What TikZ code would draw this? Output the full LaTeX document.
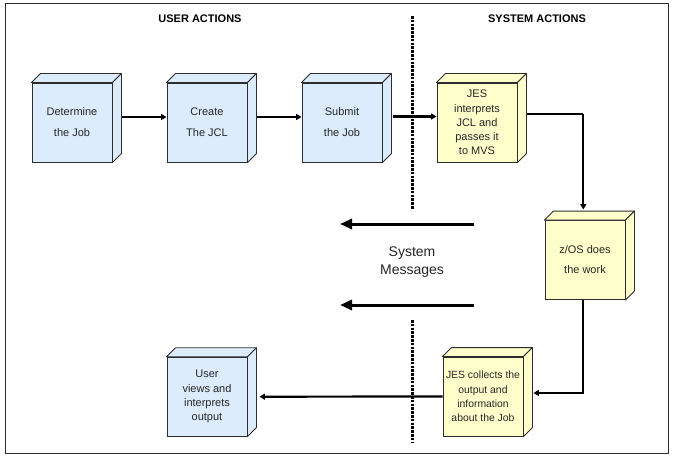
\documentclass[tikz,border=0pt]{standalone}
\usepackage{fontspec}
\setmainfont{Liberation Sans}
\usetikzlibrary{arrows.meta}
\definecolor{boxblue}{RGB}{220,236,252}
\definecolor{boxyellow}{RGB}{255,255,204}
\definecolor{edgegray}{RGB}{45,45,45}
\tikzset{
  cuboid/.style={draw=edgegray, line width=0.9pt, minimum width=80pt, minimum height=79pt,
    inner sep=0pt, align=center, text=black!85, font=\fontsize{11}{21}\selectfont},
  bluecuboid/.style={cuboid, fill=boxblue},
  yellowcuboid/.style={cuboid, fill=boxyellow},
  arr/.style={line width=2.2pt, draw=black, -{Triangle[length=5.5pt,width=6pt]}},
  bigarr/.style={line width=3pt, draw=black, -{Triangle[length=12pt,width=10pt]}},
  thinline/.style={line width=1.3pt, draw=black},
  divider/.style={line width=2.6pt, draw=black, dash pattern=on 2.6pt off 1.2pt},
  heading/.style={font=\fontsize{11}{13}\selectfont\bfseries, text=black},
}
\newcommand\cubefaces[2]{%
  \filldraw[fill=#2, draw=edgegray, line width=0.9pt, line join=round]
    (#1.north west) -- ++(9,-9) -- ([shift={(9,-9)}]#1.north east) -- (#1.north east) -- cycle;
  \filldraw[fill=#2, draw=edgegray, line width=0.9pt, line join=round]
    (#1.north east) -- ++(9,-9) -- ([shift={(9,-9)}]#1.south east) -- (#1.south east) -- cycle;}
\begin{document}
\begin{tikzpicture}[x=1pt, y=-1pt]
\useasboundingbox (0,0) rectangle (673,460);
\fill[white] (0,0) rectangle (673,460);
\draw[line width=1pt, draw=edgegray] (5,4) rectangle (668,453);

\node[heading] (uh) at (200,19) {USER ACTIONS};
\node[heading] (sh) at (537,19) {SYSTEM ACTIONS};

% dividers
\coordinate (d1a) at (412.7,16);
\coordinate (d1b) at (412.7,209);
\coordinate (d2a) at (412.7,320);
\coordinate (d2b) at (412.7,442);
\draw[divider] (d1a) -- (d1b);
\draw[divider] (d2a) -- (d2b);

% boxes
\node[bluecuboid] (det) at (72,122.5) {Determine\\the Job};
\cubefaces{det}{boxblue}
\node[bluecuboid] (cre) at (207,122.5) {Create\\The JCL};
\cubefaces{cre}{boxblue}
\node[bluecuboid] (sub) at (342,122.5) {Submit\\the Job};
\cubefaces{sub}{boxblue}
\node[yellowcuboid, font=\fontsize{11}{14.2}\selectfont] (jes) at (477,122.5) {JES\\interprets\\JCL and\\passes it\\to MVS};
\cubefaces{jes}{boxyellow}
\node[yellowcuboid, font=\fontsize{11}{20}\selectfont] (zos) at (585,260) {z/OS does\\the work};
\cubefaces{zos}{boxyellow}
\node[yellowcuboid, font=\fontsize{10.4}{14.2}\selectfont] (col) at (483,396.5) {JES collects the\\output and\\information\\about the Job};
\cubefaces{col}{boxyellow}
\node[bluecuboid, font=\fontsize{11}{14.3}\selectfont] (usr) at (207,396.7) {User\\views and\\interprets\\output};
\cubefaces{usr}{boxblue}

% connectors
\draw[arr] ([xshift=9.5pt,yshift=5.5pt]det.east) -- ([yshift=5.5pt]cre.west);
\draw[arr] ([xshift=9.5pt,yshift=5.5pt]cre.east) -- ([yshift=5.5pt]sub.west);
\draw[arr] ([xshift=11pt,yshift=6pt]sub.east) -- ([yshift=6pt]jes.west);

\coordinate (c1) at (583.3,114);
\draw[thinline] ([xshift=10pt,yshift=8.5pt]jes.east) -- (c1);
\draw[arr] (c1) -- ([yshift=10.5pt]c1 |- zos.north);

\coordinate (c2) at (583.3,393);
\draw[arr] (c2 |- zos.south) -- (c2) -- ([xshift=10pt,yshift=3.5pt]col.east);

\draw[arr] (col.west) -- ([xshift=12pt]usr.east);

% system messages
\coordinate (m1s) at (474,224);
\coordinate (m1e) at (340,224);
\coordinate (m2s) at (474,305);
\coordinate (m2e) at (340,305);
\draw[bigarr] (m1s) -- (m1e);
\draw[bigarr] (m2s) -- (m2e);
\node[font=\fontsize{14}{18}\selectfont, align=center, text=black!85] (msg) at (412,261.7) {System\\Messages};
\end{tikzpicture}
\end{document}
